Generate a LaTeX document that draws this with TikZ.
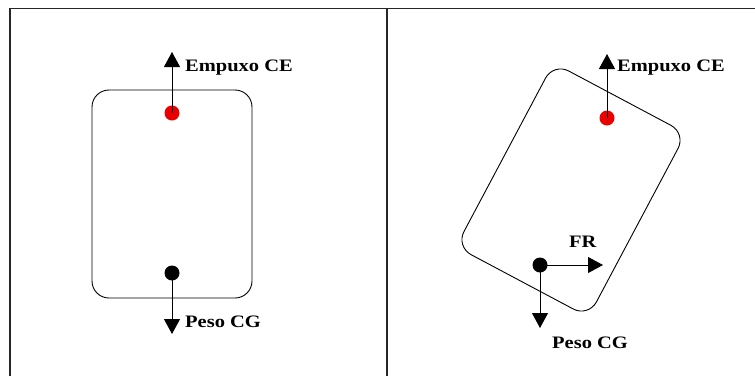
\documentclass[tikz,border=0pt]{standalone}
\usepackage{fontspec}
\newfontfamily\labfont[FakeStretch=1.17]{Liberation Serif}
\usetikzlibrary{arrows.meta}
\tikzset{
  frameline/.style={line width=1.6pt, black!85},
  hullbox/.style={draw, line width=0.9pt, rounded corners=17pt, minimum width=160pt, minimum height=208pt, inner sep=0pt},
  dot/.style={circle, inner sep=0pt, minimum size=15pt},
  force/.style={line width=1pt, -{Triangle[width=16pt,length=15pt]}},
  lab/.style={inner sep=0pt, font=\labfont\bfseries\fontsize{17.5}{20}\selectfont}
}
\begin{document}
\begin{tikzpicture}[x=1pt,y=-1pt]
\useasboundingbox (0,0) rectangle (755,376);
% frame
\coordinate (fTL) at (10,8.5);
\coordinate (fTR) at (755,8.5);
\coordinate (fBL) at (10,376);
\coordinate (dT) at (387,8.5);
\coordinate (dB) at (387,376);
\draw[frameline] (fBL) -- (fTL) -- (fTR);
\draw[frameline] (dT) -- (dB);

% left panel
\node[hullbox] (boxL) at (172,194) {};
\node[dot, fill=red!92!black] (ceL) at (172,113) {};
\node[dot, fill=black] (cgL) at (172,273) {};
\coordinate (tipEL) at (172,52);
\coordinate (tipPL) at (172,334);
\draw[force] (ceL.center) -- (tipEL);
\draw[force] (cgL.center) -- (tipPL);
\node[lab, anchor=base west] (labEL) at (185,71) {Empuxo CE};
\node[lab, anchor=base west] (labPL) at (185,327) {Peso CG};

% right panel
\node[hullbox, minimum width=150pt, rotate=-28] (boxR) at (571,190) {};
\node[dot, fill=red!92!black] (ceR) at (607,118) {};
\node[dot, fill=black] (cgR) at (540,265) {};
\coordinate (tipER) at (607,54);
\coordinate (tipPR) at (540,328);
\coordinate (tipFR) at (603,265);
\draw[force] (ceR.center) -- (tipER);
\draw[force] (cgR.center) -- (tipPR);
\draw[force] (cgR.center) -- (tipFR);
\node[lab, anchor=base west] (labER) at (617,71) {Empuxo CE};
\node[lab, anchor=base west] (labFR) at (569,247) {FR};
\node[lab, anchor=base west] (labPR) at (552,348) {Peso CG};
\end{tikzpicture}
\end{document}
